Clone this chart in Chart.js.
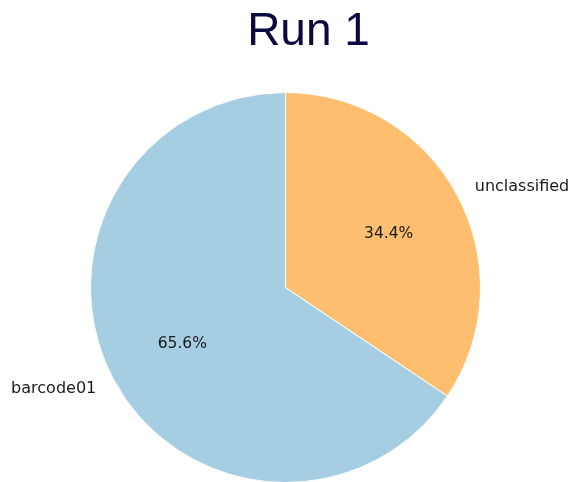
<!DOCTYPE html>
<html>
<head>
<meta charset="utf-8">
<script src="https://cdn.jsdelivr.net/npm/chart.js@4/dist/chart.umd.min.js"></script>
<style>
  html, body { margin: 0; padding: 0; background: #fff; }
  #runChart { display: block; }
</style>
</head>
<body>
<canvas id="runChart" width="569" height="482"></canvas>
<script>
const chartTitle = 'Run 1';
const categories = ['barcode01', 'unclassified'];
const shares = [65.6, 34.4];
const sliceColors = ['#a6cee3', '#fdbf6f'];

// first slice is laid out counter-clockwise from 12 o'clock, so rotate back by its sweep
const firstSweep = shares[0] / shares.reduce((a, b) => a + b, 0) * 360;

const pieLabels = {
    id: 'pieLabels',
    afterDatasetsDraw(chart) {
        const ctx = chart.ctx;
        const meta = chart.getDatasetMeta(0);
        const total = shares.reduce((a, b) => a + b, 0);
        ctx.save();
        ctx.fillStyle = '#1a1a1a';
        ctx.textBaseline = 'middle';
        meta.data.forEach((arc, i) => {
            const { x, y, startAngle, endAngle, outerRadius } = arc.getProps(['x', 'y', 'startAngle', 'endAngle', 'outerRadius'], true);
            const mid = (startAngle + endAngle) / 2;
            const cos = Math.cos(mid), sin = Math.sin(mid);
            // percentage inside the slice
            ctx.font = '15.5px "DejaVu Sans"';
            ctx.textAlign = 'center';
            ctx.fillText((shares[i] / total * 100).toFixed(1) + '%', x + cos * outerRadius * 0.6, y + sin * outerRadius * 0.6 + 1.5);
            // category name outside
            ctx.font = '16px "DejaVu Sans"';
            ctx.textAlign = cos >= 0 ? 'left' : 'right';
            ctx.fillText(categories[i], x + cos * outerRadius * 1.1, y + sin * outerRadius * 1.1 + 0.5);
        });
        ctx.restore();
    }
};

const runTitle = {
    id: 'runTitle',
    afterDraw(chart) {
        const ctx = chart.ctx;
        ctx.save();
        ctx.fillStyle = '#0a0a40';
        ctx.font = '46px "Liberation Sans", Arial, sans-serif';
        ctx.textAlign = 'center';
        ctx.textBaseline = 'alphabetic';
        ctx.fillText(chartTitle, 308.5, 45);
        ctx.restore();
    }
};

new Chart(document.getElementById('runChart'), {
    type: 'pie',
    data: {
        labels: categories,
        datasets: [{
            data: shares,
            backgroundColor: sliceColors,
            borderColor: '#ffffff',
            borderWidth: 1,
            hoverOffset: 0,
            radius: 195
        }]
    },
    options: {
        responsive: false,
        animation: false,
        rotation: -firstSweep,
        layout: { padding: { left: 90, right: 88, top: 93, bottom: 0 } },
        plugins: {
            legend: { display: false },
            tooltip: { enabled: false },
            title: { display: false }
        }
    },
    plugins: [pieLabels, runTitle]
});
</script>
</body>
</html>
